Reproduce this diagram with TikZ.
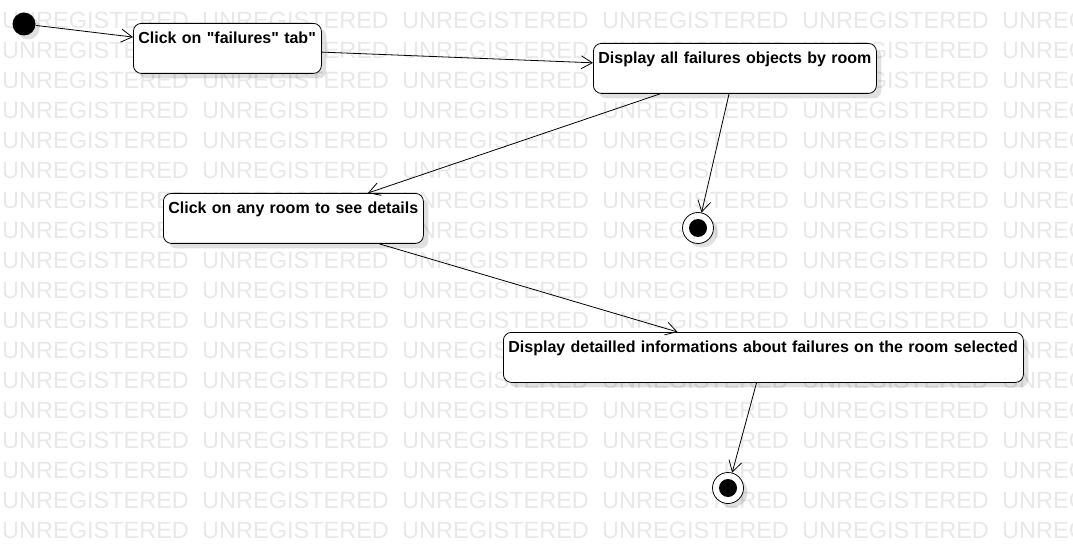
\documentclass[tikz,border=0pt]{standalone}
\usepackage{fontspec}
\setmainfont{Liberation Sans}
\usetikzlibrary{arrows.meta}
\usetikzlibrary{shadows}

\tikzset{
  watermark/.style={anchor=base west, inner sep=0pt, text=black!9,
    font=\fontsize{23.5}{28}\selectfont},
  action/.style={draw, fill=white, rounded corners=8pt, anchor=north west,
    align=left, inner xsep=5pt, inner ysep=0pt, text height=20.5pt,
    text depth=29.5pt, line width=0.8pt,
    font=\fontsize{16}{19}\selectfont\bfseries,
    drop shadow={shadow xshift=5pt, shadow yshift=-5pt, opacity=.12, fill=black}},
  initial/.style={circle, fill=black, minimum size=23pt, inner sep=0pt,
    drop shadow={shadow xshift=4pt, shadow yshift=-4pt, opacity=.12, fill=black}},
  final/.style={circle, draw, fill=white, minimum size=31pt, inner sep=0pt,
    line width=0.8pt,
    drop shadow={shadow xshift=4pt, shadow yshift=-4pt, opacity=.12, fill=black},
    path picture={\fill[black] (path picture bounding box.center) circle (9pt);}},
  flow/.style={-{Straight Barb[length=11pt,width=13pt]}, line width=0.8pt}
}

\begin{document}
\begin{tikzpicture}[x=1pt, y=-1pt]
            \useasboundingbox (0,0) rectangle (1073,553);
            \fill[white] (0,0) rectangle (1073,553);
            \clip (0,0) rectangle (1073,553);

            \foreach \r in {0,...,17}{
                \foreach \c in {0,...,5}{
                    \node[watermark] (wm-\r-\c) at (2+200*\c, 28.5+30*\r) {UNREGISTERED};
                }
            }

            \node[initial] (start) at (24,24) {};

            \node[action, text width=178pt] (clickTab) at (133,23) {Click on \textquotedbl failures\textquotedbl\ tab\textquotedbl};
            \node[action, text width=273pt] (showAll) at (593,43) {Display all failures objects by room};
            \node[action, text width=250pt] (clickRoom) at (163,193) {Click on any room to see details};
            \node[action, text width=510pt] (showDetails) at (503,332) {Display detailled informations about failures on the room selected};

            \node[final] (endAll) at (698,228) {};
            \node[final] (endDetails) at (728,488) {};

            \draw[flow] (start) -- (clickTab);
            \draw[flow] (clickTab) -- (showAll);
            \draw[flow] (showAll) -- (clickRoom);
            \draw[flow] (showAll) -- (endAll);
            \draw[flow] (clickRoom) -- (showDetails);
            \draw[flow] (showDetails) -- (endDetails);
\end{tikzpicture}
\end{document}
